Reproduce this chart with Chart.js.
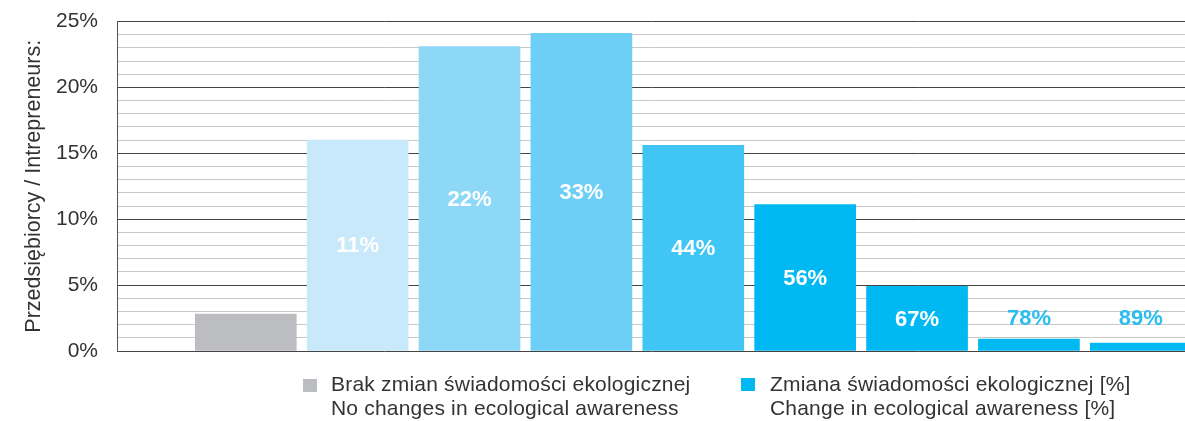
<!DOCTYPE html>
<html>
<head>
<meta charset="utf-8">
<script src="https://cdn.jsdelivr.net/npm/chart.js@4"></script>
<style>
  html, body { margin: 0; padding: 0; background: #fff; }
  #wrap { position: relative; width: 1185px; height: 421px; overflow: hidden; }
  #wrap canvas { position: absolute; left: 0; top: 0; }
  .leg { position: absolute; font-family: "Liberation Sans", Arial, sans-serif; font-size: 21px; line-height: 24px; color: #333; letter-spacing: 0.2px; white-space: nowrap; }
  .sw { position: absolute; width: 14px; height: 13px; }
</style>
</head>
<body>
<div id="wrap">
  <canvas id="c"></canvas>
  <div class="sw" id="sw1" style="left:303px; top:379px;"></div>
  <div class="leg" id="lg1" style="left:331px; top:372px;"></div>
  <div class="sw" id="sw2" style="left:741px; top:378px;"></div>
  <div class="leg" id="lg2" style="left:770px; top:372px;"></div>
</div>
<script>
// ---- data ----
const noChangeLabel = ['Brak zmian świadomości ekologicznej', 'No changes in ecological awareness'];
const changeLabel = ['Zmiana świadomości ekologicznej [%]', 'Change in ecological awareness [%]'];
const noChangeValue = [2.8];
const changeCategories = ['11%', '22%', '33%', '44%', '56%', '67%', '78%', '89%'];
const changeValues = [16.0, 23.1, 24.1, 15.6, 11.1, 4.9, 0.9, 0.6];
const yTicks = [0, 5, 10, 15, 20, 25];
const yTitle = 'Przedsiębiorcy / Intrepreneurs:';

const grayColor = '#bcbdc0';
const blueColors = ['#c8e9f9', '#8dd8f7', '#6dcff6', '#40c6f4', '#00b9f2', '#00b9f2', '#00b9f2', '#00b9f2'];

// legend (HTML text)
document.getElementById('sw1').style.background = grayColor;
document.getElementById('sw2').style.background = '#00b9f2';
document.getElementById('lg1').innerHTML = noChangeLabel.join('<br>');
document.getElementById('lg2').innerHTML = changeLabel.join('<br>');

const grayData = noChangeValue.map((v, i) => ({ x: i + 1, y: v }));
const blueData = changeValues.map((v, i) => ({ x: i + 2, y: v }));

const barLabelPlugin = {
  id: 'barLabels',
  afterDatasetsDraw(chart) {
    const ctx = chart.ctx;
    const meta = chart.getDatasetMeta(1);
    const yScale = chart.scales.y;
    ctx.save();
    ctx.font = 'bold 22px "Liberation Sans", Arial, sans-serif';
    ctx.textAlign = 'center';
    ctx.textBaseline = 'middle';
    meta.data.forEach((bar, i) => {
      const top = bar.y, bottom = bar.base;
      let y, color;
      if (bottom - top > 40) {
        y = (top + bottom) / 2 + 1;
        color = '#ffffff';
      } else {
        y = yScale.getPixelForValue(2.4);
        color = '#2bbdef';
      }
      ctx.fillStyle = color;
      ctx.fillText(changeCategories[i], bar.x, y);
    });
    ctx.restore();
  }
};

new Chart(document.getElementById('c'), {
  type: 'bar',
  data: {
    datasets: [
      { label: noChangeLabel.join(' / '), data: grayData, backgroundColor: grayColor, grouped: false, barThickness: 101 },
      { label: changeLabel.join(' / '), data: blueData, backgroundColor: blueColors, grouped: false, barThickness: 101 }
    ]
  },
  options: {
    responsive: true,
    maintainAspectRatio: false,
    animation: false,
    layout: { padding: { top: 21.5, bottom: 70, left: 0, right: 0 } },
    plugins: { legend: { display: false }, tooltip: { enabled: false } },
    scales: {
      x: {
        type: 'linear',
        min: -0.151,
        max: 9.395,
        offset: false,
        bounds: 'data',
        display: false,
        grid: { display: false, offset: false }
      },
      y: {
        min: 0,
        max: 25,
        afterFit(scale) { scale.width = 117; scale.paddingTop = 0; scale.paddingBottom = 0; },
        ticks: {
          stepSize: 1,
          autoSkip: false,
          padding: 19,
          color: '#333',
          font: { family: '"Liberation Sans", Arial, sans-serif', size: 21 },
          callback: (v) => yTicks.includes(v) ? v + '%' : ''
        },
        grid: {
          drawTicks: false,
          color: (c) => yTicks.includes(c.tick.value) ? '#444444' : '#c8c8c8',
          lineWidth: 1
        },
        border: { display: true, color: '#555', width: 1 },
        title: {
          display: true,
          text: yTitle,
          color: '#333',
          padding: { top: 21, bottom: 0 },
          font: { family: '"Liberation Sans", Arial, sans-serif', size: 21.5 }
        }
      }
    }
  },
  plugins: [barLabelPlugin]
});
</script>
</body>
</html>
